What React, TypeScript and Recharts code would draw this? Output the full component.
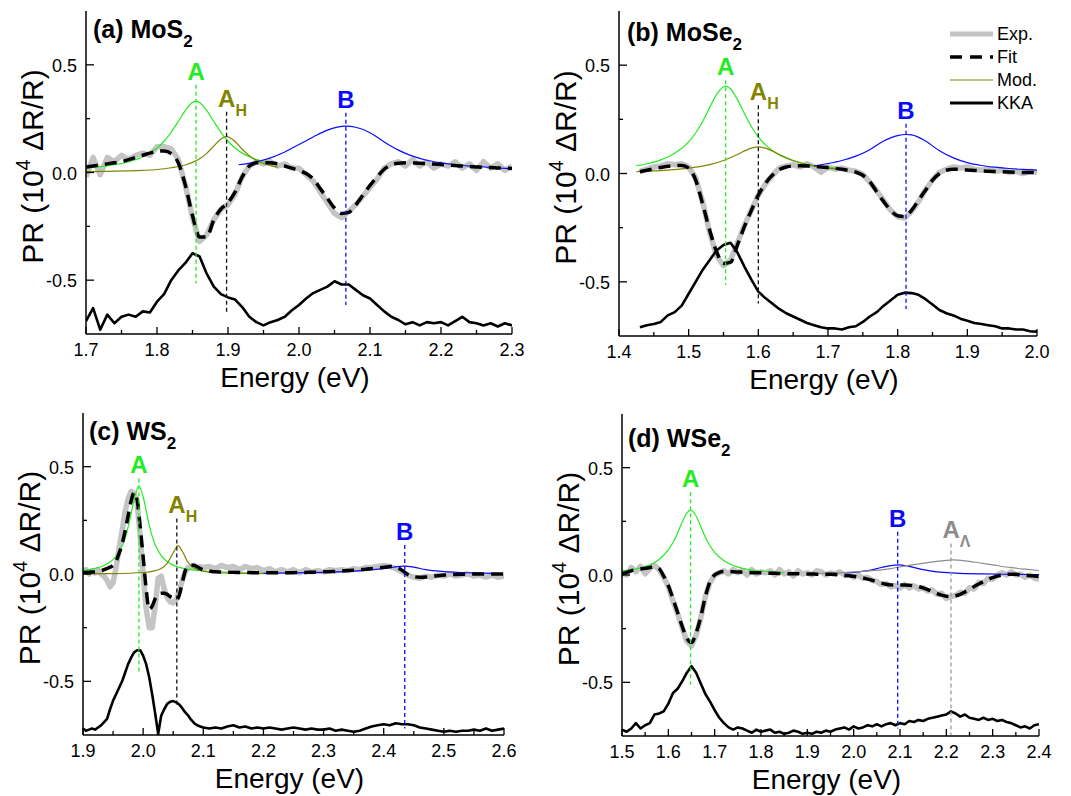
import React from 'react';
import { LineChart, Line, XAxis, YAxis, ReferenceLine } from 'recharts';

const FONT = '"Liberation Sans", Arial, Helvetica, sans-serif';

const GREEN = '#22ec22';
const OLIVE = '#838300';
const BLUE = '#0a0aff';
const LAMBDA = '#8c8c8c';
const EXP_GRAY = '#c4c4c4';

// energy sampling of the measured / fitted curves
function grid(from: number, to: number, step: number): number[] {
  const out: number[] = [];
  const n = Math.round((to - from) / step);
  for (let i = 0; i <= n; i++) out.push(+(from + i * step).toFixed(3));
  return out;
}

const yTicks = [-0.5, -0.25, 0, 0.25, 0.5];

// ---------- (a) MoS2 ----------
const xTicksA = [1.7, 1.75, 1.8, 1.85, 1.9, 1.95, 2.0, 2.05, 2.1, 2.15, 2.2, 2.25, 2.3];
const gridA = grid(1.7, 2.3, 0.01);
const expA = [
  -0.02, 0.07, -0.01, 0.07, 0.05, 0.08, 0.06, 0.08, 0.09, 0.08,
  0.12, 0.12, 0.11, 0.06, -0.06, -0.21, -0.32, -0.29, -0.22, -0.17,
  -0.15, -0.1, -0.02, 0.03, 0.05, 0.04, 0.05, 0.03, 0.04, 0.02,
  0.02, -0.01, -0.04, -0.09, -0.14, -0.19, -0.21, -0.18, -0.15, -0.11,
  -0.07, -0.03, 0.02, 0.04, 0.05, 0.03, 0.06, 0.03, 0.05, 0.02,
  0.04, 0.03, 0.05, 0.02, 0.04, 0.01, 0.05, 0.02, 0.04, 0.01,
  0.03,
];
const fitA = [
  0.025, 0.03, 0.035, 0.04, 0.045, 0.05, 0.06, 0.07, 0.08, 0.09,
  0.098, 0.1, 0.088, 0.045, -0.06, -0.2, -0.3, -0.3, -0.22, -0.17,
  -0.14, -0.09, -0.02, 0.03, 0.045, 0.047, 0.045, 0.04, 0.03, 0.02,
  0.01, -0.005, -0.03, -0.075, -0.12, -0.165, -0.19, -0.185, -0.15, -0.105,
  -0.06, -0.02, 0.015, 0.035, 0.043, 0.045, 0.044, 0.043, 0.041, 0.039,
  0.037, 0.035, 0.032, 0.03, 0.028, 0.026, 0.024, 0.023, 0.021, 0.02,
  0.018,
];
const kkaA = [
  -0.69, -0.63, -0.73, -0.66, -0.7, -0.67, -0.66, -0.67, -0.645, -0.65,
  -0.6, -0.565, -0.5, -0.455, -0.42, -0.375, -0.39, -0.47, -0.53, -0.565,
  -0.58, -0.59, -0.625, -0.67, -0.695, -0.71, -0.695, -0.685, -0.67, -0.64,
  -0.615, -0.585, -0.56, -0.545, -0.53, -0.505, -0.52, -0.52, -0.545, -0.57,
  -0.585, -0.615, -0.645, -0.67, -0.685, -0.705, -0.695, -0.71, -0.695, -0.7,
  -0.695, -0.71, -0.69, -0.67, -0.695, -0.7, -0.71, -0.7, -0.715, -0.7,
  -0.71,
];
const modA_A: [number, number][] = [
  [1.7, 0.021], [1.72, 0.027], [1.74, 0.036], [1.76, 0.05], [1.78, 0.073], [1.8, 0.114],
  [1.81, 0.145], [1.82, 0.187], [1.83, 0.237], [1.84, 0.289], [1.85, 0.325], [1.855, 0.33],
  [1.86, 0.325], [1.87, 0.289], [1.88, 0.237], [1.89, 0.187], [1.9, 0.145], [1.91, 0.114],
  [1.92, 0.09], [1.93, 0.073], [1.94, 0.06], [1.95, 0.05], [1.96, 0.042], [1.97, 0.036],
];
const modA_AH: [number, number][] = [
  [1.7, 0.004], [1.72, 0.005], [1.74, 0.006], [1.76, 0.0075], [1.78, 0.01], [1.8, 0.014],
  [1.82, 0.022], [1.84, 0.035], [1.85, 0.047], [1.86, 0.064], [1.87, 0.089], [1.88, 0.123],
  [1.89, 0.156], [1.898, 0.167], [1.91, 0.144], [1.92, 0.108], [1.93, 0.078], [1.94, 0.056],
  [1.95, 0.042], [1.96, 0.032], [1.97, 0.025],
];
const modA_B: [number, number][] = [
  [1.915, 0.036], [1.94, 0.05], [1.96, 0.068], [1.98, 0.095], [2.0, 0.13], [2.02, 0.165],
  [2.04, 0.197], [2.066, 0.215], [2.08, 0.21], [2.1, 0.185], [2.12, 0.142], [2.14, 0.104],
  [2.16, 0.076], [2.18, 0.057], [2.2, 0.045], [2.22, 0.036], [2.25, 0.028], [2.28, 0.021],
  [2.3, 0.017],
];

// ---------- (b) MoSe2 ----------
const xTicksB = [1.4, 1.45, 1.5, 1.55, 1.6, 1.65, 1.7, 1.75, 1.8, 1.85, 1.9, 1.95, 2.0];
const gridB = grid(1.43, 2.0, 0.01);
const expB = [
  0.01, 0.02, 0.03, 0.035, 0.045, 0.04, 0.045,
  0.03, -0.02, -0.13, -0.27, -0.38, -0.425, -0.4, -0.32, -0.24, -0.17,
  -0.1, -0.05, -0.01, 0.025, 0.035, 0.04, 0.03, 0.045, 0.03, 0.005,
  0.03, 0.02, 0.025, 0.015, 0.01, -0.005, -0.04, -0.08, -0.125, -0.17,
  -0.2, -0.205, -0.175, -0.13, -0.075, -0.03, 0.005, 0.02, 0.03, 0.025,
  0.03, 0.02, 0.015, 0.02, 0.01, 0.015, 0.005, 0.01, 0.0, 0.01,
  0.005,
];
const fitB = [
  0.008, 0.015, 0.022, 0.028, 0.033, 0.036, 0.037,
  0.025, -0.03, -0.14, -0.26, -0.36, -0.415, -0.41, -0.33, -0.245, -0.17,
  -0.1, -0.046, -0.008, 0.018, 0.03, 0.035, 0.036, 0.035, 0.033, 0.03,
  0.027, 0.024, 0.02, 0.014, 0.006, -0.008, -0.038, -0.085, -0.13, -0.17,
  -0.195, -0.198, -0.17, -0.123, -0.077, -0.031, 0.0, 0.015, 0.02, 0.019,
  0.016, 0.014, 0.012, 0.01, 0.009, 0.008, 0.007, 0.006, 0.005, 0.005,
  0.004,
];
const kkaB = [
  -0.71, -0.7, -0.695, -0.685, -0.655, -0.64, -0.61,
  -0.555, -0.5, -0.445, -0.4, -0.355, -0.33, -0.32, -0.365, -0.43, -0.49,
  -0.545, -0.575, -0.6, -0.625, -0.645, -0.66, -0.675, -0.69, -0.7, -0.71,
  -0.715, -0.715, -0.72, -0.71, -0.705, -0.685, -0.66, -0.64, -0.61, -0.585,
  -0.56, -0.55, -0.552, -0.56, -0.58, -0.605, -0.63, -0.645, -0.655, -0.67,
  -0.68, -0.69, -0.695, -0.7, -0.705, -0.715, -0.715, -0.72, -0.72, -0.728,
  -0.73,
];
const modB_A: [number, number][] = [
  [1.425, 0.036], [1.44, 0.045], [1.46, 0.063], [1.48, 0.093], [1.5, 0.146], [1.51, 0.187],
  [1.52, 0.24], [1.53, 0.303], [1.54, 0.364], [1.553, 0.403], [1.56, 0.391], [1.57, 0.341],
  [1.58, 0.277], [1.59, 0.217], [1.6, 0.169], [1.61, 0.133], [1.62, 0.106], [1.63, 0.086],
  [1.64, 0.071], [1.66, 0.049], [1.68, 0.037], [1.7, 0.028], [1.72, 0.022],
];
const modB_AH: [number, number][] = [
  [1.425, 0.009], [1.45, 0.012], [1.47, 0.016], [1.49, 0.021], [1.51, 0.029], [1.53, 0.041],
  [1.55, 0.06], [1.57, 0.088], [1.59, 0.117], [1.6, 0.123], [1.61, 0.117], [1.63, 0.088],
  [1.65, 0.06], [1.67, 0.041], [1.69, 0.029], [1.72, 0.018],
];
const modB_B: [number, number][] = [
  [1.68, 0.035], [1.7, 0.046], [1.72, 0.06], [1.74, 0.08], [1.76, 0.11], [1.78, 0.15],
  [1.8, 0.175], [1.812, 0.18], [1.82, 0.178], [1.84, 0.15], [1.86, 0.105], [1.88, 0.072],
  [1.9, 0.05], [1.92, 0.037], [1.94, 0.029], [1.96, 0.023], [1.98, 0.019], [2.0, 0.016],
];

// ---------- (c) WS2 ----------
const xTicksC = [1.9, 1.95, 2.0, 2.05, 2.1, 2.15, 2.2, 2.25, 2.3, 2.35, 2.4, 2.45, 2.5, 2.55, 2.6];
const gridC = [...grid(1.9, 2.1, 0.005), ...grid(2.11, 2.6, 0.01)];
const expC = [
  0.01, 0.02, 0.0, 0.015, 0.005, 0.02, 0.0, -0.01, -0.03, -0.06,
  -0.04, 0.03, 0.12, 0.2, 0.29, 0.35, 0.385, 0.375, 0.33, 0.18,
  0.0, -0.16, -0.25, -0.25, -0.15, -0.02, -0.01, -0.07, -0.11, -0.13,
  -0.135, -0.12, -0.08, -0.03, 0.01, 0.03, 0.03, 0.04, 0.025, 0.035,
  0.03,
  0.035, 0.025, 0.04, 0.03, 0.035, 0.02, 0.035, 0.025, 0.03, 0.015,
  0.025, 0.01, 0.02, 0.01, 0.02, 0.005, 0.02, 0.01, 0.015, 0.01,
  0.02, 0.015, 0.02, 0.015, 0.025, 0.02, 0.03, 0.03, 0.035, 0.04,
  0.035, 0.025, 0.01, -0.005, -0.015, -0.02, -0.01, -0.015, -0.005, -0.01,
  0.0, -0.01, -0.005, 0.0, -0.01, -0.005, -0.015, -0.005, -0.015, -0.01,
];
const fitC = [
  0.006, 0.007, 0.008, 0.009, 0.01, 0.012, 0.015, 0.02, 0.026, 0.032,
  0.04, 0.06, 0.096, 0.14, 0.2, 0.27, 0.34, 0.38, 0.345, 0.22,
  0.08, -0.07, -0.165, -0.15, -0.115, -0.095, -0.09, -0.09, -0.095, -0.105,
  -0.112, -0.12, -0.1, -0.04, 0.015, 0.035, 0.042, 0.04, 0.034, 0.026,
  0.019,
  0.014, 0.01, 0.009, 0.008, 0.008, 0.007, 0.007, 0.006, 0.006, 0.006,
  0.006, 0.006, 0.006, 0.006, 0.006, 0.007, 0.007, 0.008, 0.009, 0.01,
  0.011, 0.012, 0.014, 0.016, 0.018, 0.02, 0.022, 0.025, 0.028, 0.031,
  0.035, 0.033, 0.018, -0.002, -0.012, -0.015, -0.014, -0.011, -0.008, -0.005,
  -0.003, -0.002, -0.001, 0, 0, 0, 0, 0, 0, 0,
];
const kkaC = [
  -0.72, -0.73, -0.725, -0.72, -0.725, -0.715, -0.705, -0.69, -0.675, -0.63,
  -0.59, -0.56, -0.53, -0.5, -0.46, -0.42, -0.39, -0.365, -0.355, -0.355,
  -0.38, -0.42, -0.48, -0.56, -0.65, -0.745, -0.66, -0.63, -0.605, -0.595,
  -0.592, -0.598, -0.608, -0.625, -0.645, -0.66, -0.68, -0.695, -0.705, -0.71,
  -0.715,
  -0.72, -0.715, -0.72, -0.71, -0.705, -0.715, -0.71, -0.72, -0.715, -0.72,
  -0.715, -0.72, -0.725, -0.72, -0.715, -0.72, -0.725, -0.72, -0.725, -0.725,
  -0.72, -0.73, -0.725, -0.73, -0.735, -0.73, -0.72, -0.71, -0.705, -0.7,
  -0.705, -0.695, -0.7, -0.7, -0.705, -0.715, -0.72, -0.725, -0.73, -0.735,
  -0.73, -0.735, -0.73, -0.73, -0.725, -0.73, -0.72, -0.73, -0.725, -0.72,
];
const modC_A: [number, number][] = [
  [1.9, 0.016], [1.92, 0.026], [1.94, 0.047], [1.95, 0.067], [1.96, 0.102], [1.97, 0.166],
  [1.98, 0.28], [1.985, 0.348], [1.993, 0.41], [2.0, 0.36], [2.01, 0.228], [2.02, 0.136],
  [2.03, 0.086], [2.04, 0.058], [2.06, 0.031], [2.08, 0.02], [2.1, 0.014], [2.15, 0.007],
  [2.2, 0.004],
];
const modC_AH: [number, number][] = [
  [1.9, 0.001], [1.95, 0.002], [2.0, 0.007], [2.02, 0.016], [2.03, 0.026], [2.04, 0.05],
  [2.05, 0.099], [2.058, 0.132], [2.065, 0.106], [2.075, 0.053], [2.085, 0.028], [2.1, 0.013],
  [2.12, 0.007], [2.15, 0.004], [2.2, 0.002],
];
const modC_B: [number, number][] = [
  [2.2, 0.003], [2.25, 0.005], [2.3, 0.008], [2.35, 0.013], [2.4, 0.025], [2.435, 0.037],
  [2.45, 0.032], [2.47, 0.02], [2.5, 0.011], [2.55, 0.005], [2.58, 0.003],
];

// ---------- (d) WSe2 ----------
const xTicksD = [1.5, 1.55, 1.6, 1.65, 1.7, 1.75, 1.8, 1.85, 1.9, 1.95, 2.0, 2.05, 2.1, 2.15, 2.2, 2.25, 2.3, 2.35, 2.4];
const gridD = grid(1.5, 2.4, 0.01);
const expD = [
  0.01, 0.0, 0.035, 0.015, 0.04, 0.005, 0.03, 0.045, 0.025, -0.01,
  -0.055, -0.12, -0.18, -0.245, -0.31, -0.33, -0.28, -0.2, -0.1, -0.035,
  0.0, 0.01, 0.02, 0.005, 0.025, 0.01, 0.02, 0.0, 0.025, 0.005,
  0.015, 0.01, 0.02, 0.0, 0.025, 0.005, 0.015, -0.005, 0.02, 0.005,
  0.01, 0.0, 0.02, 0.015, 0.0, 0.01, 0.005, 0.015, 0.0, 0.005,
  -0.01, 0.0, -0.015, -0.01, -0.025, -0.03, -0.045, -0.04, -0.055, -0.05,
  -0.06, -0.045, -0.06, -0.05, -0.065, -0.06, -0.075, -0.07, -0.09, -0.085,
  -0.11, -0.1, -0.095, -0.08, -0.085, -0.06, -0.065, -0.035, -0.04, -0.015,
  -0.02, 0.0, 0.01, 0.0, 0.015, 0.0, 0.005, -0.01, 0.0, -0.015,
  -0.02,
];
const fitD = [
  0.005, 0.012, 0.02, 0.025, 0.028, 0.031, 0.035, 0.038, 0.03, -0.005,
  -0.05, -0.11, -0.175, -0.24, -0.295, -0.315, -0.27, -0.195, -0.1, -0.03,
  0.0, 0.012, 0.016, 0.016, 0.015, 0.014, 0.013, 0.012, 0.011, 0.01,
  0.01, 0.009, 0.008, 0.008, 0.007, 0.007, 0.006, 0.006, 0.006, 0.005,
  0.005, 0.005, 0.004, 0.004, 0.003, 0.003, 0.002, 0.0, -0.002, -0.004,
  -0.006, -0.01, -0.014, -0.019, -0.025, -0.032, -0.038, -0.043, -0.046, -0.047,
  -0.047, -0.047, -0.048, -0.05, -0.054, -0.06, -0.068, -0.077, -0.086, -0.094,
  -0.099, -0.1, -0.097, -0.09, -0.079, -0.067, -0.054, -0.042, -0.031, -0.021,
  -0.012, -0.005, 0.0, 0.003, 0.004, 0.003, 0.001, -0.001, -0.003, -0.005,
  -0.007,
];
const kkaD = [
  -0.72, -0.73, -0.715, -0.69, -0.715, -0.7, -0.69, -0.65, -0.645, -0.635,
  -0.6, -0.55, -0.53, -0.495, -0.455, -0.425, -0.455, -0.505, -0.555, -0.59,
  -0.63, -0.665, -0.69, -0.71, -0.72, -0.71, -0.715, -0.725, -0.735, -0.72,
  -0.73, -0.725, -0.72, -0.735, -0.73, -0.74, -0.735, -0.725, -0.73, -0.74,
  -0.735, -0.74, -0.73, -0.735, -0.725, -0.73, -0.72, -0.715, -0.71, -0.72,
  -0.705, -0.715, -0.71, -0.7, -0.705, -0.695, -0.705, -0.695, -0.69, -0.7,
  -0.69, -0.695, -0.68, -0.685, -0.675, -0.68, -0.67, -0.665, -0.66, -0.655,
  -0.65, -0.635, -0.645, -0.66, -0.65, -0.665, -0.67, -0.675, -0.665, -0.675,
  -0.67, -0.68, -0.675, -0.685, -0.69, -0.7, -0.71, -0.705, -0.715, -0.7,
  -0.695,
];
const modD_A: [number, number][] = [
  [1.5, 0.019], [1.52, 0.0245], [1.54, 0.033], [1.56, 0.047], [1.58, 0.072], [1.6, 0.117],
  [1.61, 0.151], [1.62, 0.196], [1.63, 0.247], [1.64, 0.289], [1.648, 0.302], [1.66, 0.275],
  [1.67, 0.226], [1.68, 0.176], [1.69, 0.136], [1.7, 0.105], [1.72, 0.066], [1.74, 0.044],
  [1.76, 0.031], [1.78, 0.023], [1.8, 0.018], [1.83, 0.013], [1.85, 0.01],
];
const modD_B: [number, number][] = [
  [1.98, 0.01], [2.0, 0.012], [2.03, 0.02], [2.06, 0.035], [2.08, 0.044], [2.097, 0.047],
  [2.12, 0.04], [2.15, 0.025], [2.18, 0.015], [2.22, 0.009], [2.28, 0.005], [2.34, 0.003],
  [2.4, 0.002],
];
const modD_AL: [number, number][] = [
  [1.92, 0.007], [1.96, 0.01], [2.0, 0.014], [2.04, 0.02], [2.08, 0.03], [2.12, 0.045],
  [2.16, 0.058], [2.19, 0.066], [2.215, 0.07], [2.24, 0.066], [2.27, 0.057], [2.3, 0.047],
  [2.34, 0.034], [2.37, 0.027], [2.4, 0.021],
];

// peak markers: energy, dashed line extent, label
type Peak = { name: string; sub?: string; e: number; top: number; bottom: number; color: string; line: string };
const peaksA: Peak[] = [
  { name: 'A', e: 1.855, top: 0.408, bottom: -0.515, color: GREEN, line: GREEN },
  { name: 'A', sub: 'H', e: 1.898, top: 0.282, bottom: -0.65, color: OLIVE, line: '#111' },
  { name: 'B', e: 2.066, top: 0.277, bottom: -0.615, color: BLUE, line: BLUE },
];
const peaksB: Peak[] = [
  { name: 'A', e: 1.553, top: 0.43, bottom: -0.515, color: GREEN, line: GREEN },
  { name: 'A', sub: 'H', e: 1.6, top: 0.315, bottom: -0.6, color: OLIVE, line: '#111' },
  { name: 'B', e: 1.812, top: 0.23, bottom: -0.625, color: BLUE, line: BLUE },
];
const peaksC: Peak[] = [
  { name: 'A', e: 1.993, top: 0.445, bottom: -0.455, color: GREEN, line: GREEN },
  { name: 'A', sub: 'H', e: 2.056, top: 0.259, bottom: -0.61, color: OLIVE, line: '#111' },
  { name: 'B', e: 2.435, top: 0.135, bottom: -0.72, color: BLUE, line: BLUE },
];
const peaksD: Peak[] = [
  { name: 'A', e: 1.648, top: 0.385, bottom: -0.51, color: GREEN, line: GREEN },
  { name: 'B', e: 2.095, top: 0.201, bottom: -0.715, color: BLUE, line: BLUE },
  { name: 'A', sub: 'Λ', e: 2.21, top: 0.147, bottom: -0.745, color: LAMBDA, line: '#9a9a9a' },
];

type PanelDef = {
  left: number; top: number; width: number; height: number;
  mt: number; mr: number; yw: number; xh: number;
  xDomain: [number, number]; xTicks: number[];
  energies: number[]; exp: number[]; fit: number[]; kka: number[];
  mods: { pts: [number, number][]; color: string }[];
  peaks: Peak[];
};

const panels: PanelDef[] = [
  {
    left: 0, top: 0, width: 530, height: 400, mt: 11, mr: 18, yw: 86, xh: 66,
    xDomain: [1.7, 2.3], xTicks: xTicksA, energies: gridA, exp: expA, fit: fitA, kka: kkaA,
    mods: [{ pts: modA_A, color: GREEN }, { pts: modA_AH, color: OLIVE }, { pts: modA_B, color: BLUE }],
    peaks: peaksA,
  },
  {
    left: 530, top: 0, width: 541, height: 400, mt: 11, mr: 34, yw: 89, xh: 64,
    xDomain: [1.4, 2.0], xTicks: xTicksB, energies: gridB, exp: expB, fit: fitB, kka: kkaB,
    mods: [{ pts: modB_A, color: GREEN }, { pts: modB_AH, color: OLIVE }, { pts: modB_B, color: BLUE }],
    peaks: peaksB,
  },
  {
    left: 0, top: 400, width: 530, height: 396, mt: 13, mr: 26, yw: 83, xh: 61,
    xDomain: [1.9, 2.6], xTicks: xTicksC, energies: gridC, exp: expC, fit: fitC, kka: kkaC,
    mods: [{ pts: modC_A, color: GREEN }, { pts: modC_AH, color: OLIVE }, { pts: modC_B, color: BLUE }],
    peaks: peaksC,
  },
  {
    left: 530, top: 400, width: 541, height: 396, mt: 14, mr: 32, yw: 92, xh: 60,
    xDomain: [1.5, 2.4], xTicks: xTicksD, energies: gridD, exp: expD, fit: fitD, kka: kkaD,
    mods: [{ pts: modD_A, color: GREEN }, { pts: modD_B, color: BLUE }, { pts: modD_AL, color: LAMBDA }],
    peaks: peaksD,
  },
];

const titles = [
  { text: '(a) MoS', x: 93, y: 38 },
  { text: '(b) MoSe', x: 627, y: 41 },
  { text: '(c) WS', x: 89, y: 440 },
  { text: '(d) WSe', x: 628, y: 447 },
];

const isMajor = (v: number, step: number) => Math.abs(v / step - Math.round(v / step)) < 1e-6;
const TICK = { stroke: '#000', strokeWidth: 1.3 };

function BottomTick(props: any) {
  const { x, y, payload } = props;
  const major = isMajor(payload.value, 0.1);
  return (
    <g>
      <line x1={x} x2={x} y1={y} y2={y - (major ? 7 : 4)} {...TICK} />
      {major && (
        <text x={x} y={y + 22} textAnchor="middle" fontSize={18} fontFamily={FONT} fill="#000">
          {payload.value.toFixed(1)}
        </text>
      )}
    </g>
  );
}

function TopTick(props: any) {
  const { x, y, payload } = props;
  const major = isMajor(payload.value, 0.1);
  return <line x1={x} x2={x} y1={y} y2={y + (major ? 7 : 4)} {...TICK} />;
}

function LeftTick(props: any) {
  const { x, y, payload } = props;
  const major = isMajor(payload.value, 0.5);
  return (
    <g>
      <line x1={x} x2={x + (major ? 8 : 4)} y1={y} y2={y} {...TICK} />
      {major && (
        <text x={x - 9} y={y + 7} textAnchor="end" fontSize={18} fontFamily={FONT} fill="#000">
          {payload.value.toFixed(1)}
        </text>
      )}
    </g>
  );
}

function RightTick(props: any) {
  const { x, y, payload } = props;
  const major = isMajor(payload.value, 0.5);
  return <line x1={x} x2={x - (major ? 8 : 4)} y1={y} y2={y} {...TICK} />;
}

function XTitle(props: any) {
  const vb = props.viewBox;
  if (!vb) return null;
  return (
    <text x={vb.x + vb.width / 2 - 4} y={vb.y + 53} textAnchor="middle" fontSize={28} fontFamily={FONT} fill="#000">
      Energy (eV)
    </text>
  );
}

function YTitle(props: any) {
  const vb = props.viewBox;
  if (!vb) return null;
  const x = vb.x + vb.width - 43;
  const cy = vb.y + vb.height / 2 - 6;
  return (
    <text x={x} y={cy} transform={`rotate(-90 ${x} ${cy})`} textAnchor="middle" fontSize={30} fontFamily={FONT} fill="#000">
      PR (10<tspan dy={-13} fontSize={20}>4</tspan>
      <tspan dy={13}>{' ΔR/R)'}</tspan>
    </text>
  );
}

function PeakLabel(props: any) {
  const { viewBox, pk } = props;
  if (!viewBox) return null;
  const cx = viewBox.x + (viewBox.width || 0) / 2;
  const by = viewBox.y - 5;
  return (
    <text
      x={pk.sub ? cx - 8.5 : cx}
      y={by}
      textAnchor={pk.sub ? 'start' : 'middle'}
      fill={pk.color}
      fontFamily={FONT}
      fontWeight="bold"
      fontSize={24}
    >
      {pk.name}
      {pk.sub && <tspan dy={9} fontSize={16}>{pk.sub}</tspan>}
    </text>
  );
}

function Panel({ p }: { p: PanelDef }) {
  const toPts = (ys: number[]) => ys.map((y, i) => ({ x: p.energies[i], y }));
  const frame = { stroke: '#000', strokeWidth: 1.5 };
  return (
    <div style={{ position: 'absolute', left: p.left, top: p.top }}>
      <LineChart width={p.width} height={p.height} margin={{ top: p.mt, right: p.mr, bottom: 0, left: 0 }}>
        <XAxis
          type="number" dataKey="x" domain={p.xDomain} ticks={p.xTicks} interval={0} allowDataOverflow
          height={p.xh} tickSize={0} tickMargin={0} tickLine={false} axisLine={frame}
          tick={BottomTick} label={XTitle}
        />
        <XAxis
          xAxisId="top" orientation="top" type="number" dataKey="x" domain={p.xDomain} ticks={p.xTicks}
          interval={0} allowDataOverflow height={0} tickSize={0} tickMargin={0} tickLine={false}
          axisLine={frame} tick={TopTick}
        />
        <YAxis
          type="number" domain={[-0.75, 0.75]} ticks={yTicks} interval={0} allowDataOverflow
          width={p.yw} tickSize={0} tickMargin={0} tickLine={false} axisLine={frame}
          tick={LeftTick} label={YTitle}
        />
        <YAxis
          yAxisId="right" orientation="right" type="number" domain={[-0.75, 0.75]} ticks={yTicks}
          interval={0} allowDataOverflow width={0} tickSize={0} tickMargin={0} tickLine={false}
          axisLine={frame} tick={RightTick}
        />
        <Line
          data={toPts(p.exp)} dataKey="y" type="linear" stroke={EXP_GRAY} strokeWidth={5.5}
          strokeLinejoin="round" dot={false} activeDot={false} isAnimationActive={false}
        />
        {p.mods.map((m, i) => (
          <Line
            key={i} data={m.pts.map(([x, y]) => ({ x, y }))} dataKey="y" type="monotone"
            stroke={m.color} strokeWidth={1.2} dot={false} activeDot={false} isAnimationActive={false}
          />
        ))}
        <Line
          data={toPts(p.fit)} dataKey="y" type="monotone" stroke="#000" strokeWidth={3.5}
          strokeDasharray="12 7" dot={false} activeDot={false} isAnimationActive={false}
        />
        <Line
          data={toPts(p.kka)} dataKey="y" type="linear" stroke="#000" strokeWidth={2.6}
          strokeLinejoin="round" dot={false} activeDot={false} isAnimationActive={false}
        />
        {p.peaks.map((pk, i) => (
          <ReferenceLine
            key={'pk' + i}
            segment={[{ x: pk.e, y: pk.top }, { x: pk.e, y: pk.bottom }]}
            stroke={pk.line} strokeWidth={1.3} strokeDasharray="4 3"
            label={<PeakLabel pk={pk} />}
          />
        ))}
      </LineChart>
    </div>
  );
}

export default function App() {
  return (
    <div style={{ position: 'absolute', left: 0, top: 0, width: 1071, height: 796, background: '#fff' }}>
      {panels.map((p, i) => (
        <Panel key={i} p={p} />
      ))}
      <svg width={1071} height={796} style={{ position: 'absolute', left: 0, top: 0, pointerEvents: 'none' }}>
        {titles.map((t, i) => (
          <text key={i} x={t.x} y={t.y} fontFamily={FONT} fontWeight="bold" fontSize={25} fill="#000">
            {t.text}
            <tspan dy={9} fontSize={17}>2</tspan>
          </text>
        ))}
        {/* legend of panel (b) */}
        <line x1={950} x2={993} y1={34} y2={34} stroke={EXP_GRAY} strokeWidth={5} />
        <text x={997} y={40} fontFamily={FONT} fontSize={18}>Exp.</text>
        <line x1={950} x2={993} y1={57} y2={57} stroke="#000" strokeWidth={3.5} strokeDasharray="12 8" />
        <text x={997} y={63} fontFamily={FONT} fontSize={18}>Fit</text>
        <line x1={950} x2={993} y1={80} y2={80} stroke={OLIVE} strokeWidth={1.2} />
        <text x={997} y={86} fontFamily={FONT} fontSize={18}>Mod.</text>
        <line x1={950} x2={993} y1={103} y2={103} stroke="#000" strokeWidth={3} />
        <text x={997} y={109} fontFamily={FONT} fontSize={18}>KKA</text>
      </svg>
    </div>
  );
}
